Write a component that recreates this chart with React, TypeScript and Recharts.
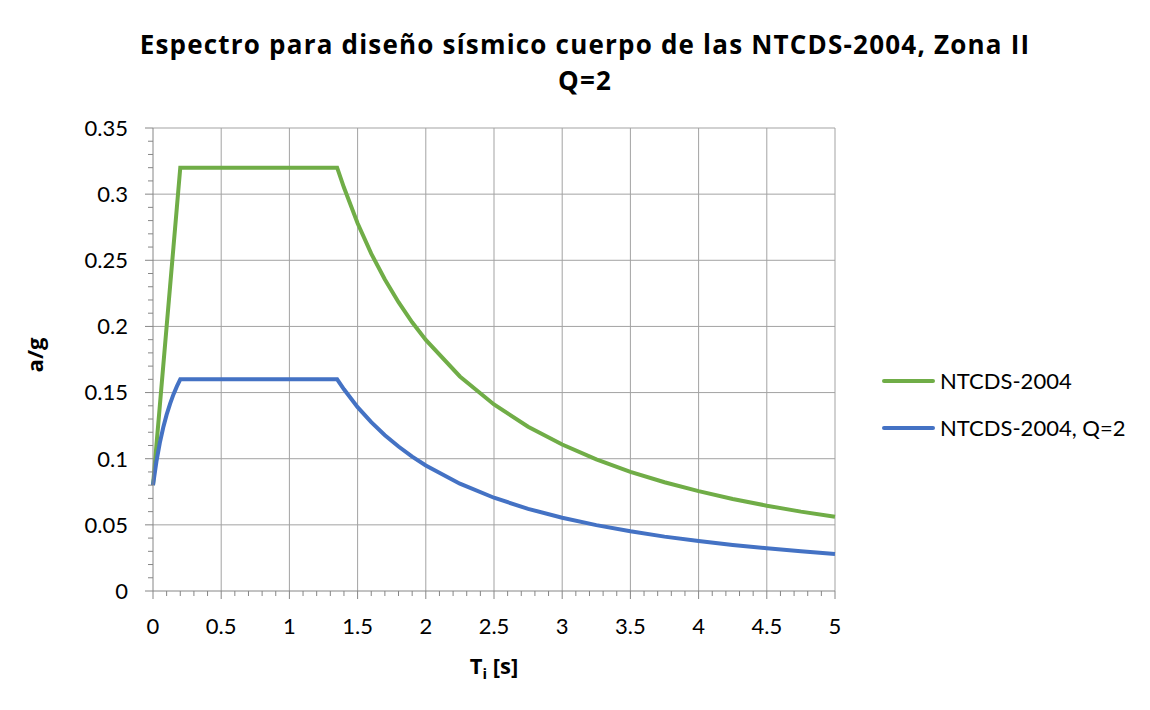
import { LineChart, Line, XAxis, YAxis, ReferenceLine } from 'recharts';

// periodo T [s]
const periods = [
  0, 0.025, 0.05, 0.075, 0.1, 0.125, 0.15, 0.175, 0.2, 0.5, 1.0, 1.35, 1.4, 1.5, 1.6, 1.7, 1.8, 1.9, 2.0,
  2.25, 2.5, 2.75, 3.0, 3.25, 3.5, 3.75, 4.0, 4.25, 4.5, 4.75, 5.0,
];
// a/g, espectro elastico
const ntcds = [
  0.08, 0.11, 0.14, 0.17, 0.2, 0.23, 0.26, 0.29, 0.32, 0.32, 0.32, 0.32, 0.305, 0.278, 0.255, 0.2355, 0.2183, 0.2031, 0.1898,
  0.1622, 0.141, 0.1242, 0.1107, 0.0995, 0.0901, 0.0822, 0.0755, 0.0696, 0.0645, 0.06, 0.0561,
];
// a/g, reducido con Q=2
const ntcdsQ2 = [
  0.08, 0.0978, 0.112, 0.1236, 0.1333, 0.1415, 0.1486, 0.1547, 0.16, 0.16, 0.16, 0.16, 0.1525, 0.139, 0.1277, 0.1178, 0.1092, 0.1016, 0.0949,
  0.0811, 0.0705, 0.0621, 0.0554, 0.0498, 0.0451, 0.0411, 0.0378, 0.0348, 0.0323, 0.03, 0.028,
];

const xMajor = [0, 0.5, 1, 1.5, 2, 2.5, 3, 3.5, 4, 4.5, 5];
const yMajor = [0, 0.05, 0.1, 0.15, 0.2, 0.25, 0.3, 0.35];
const xTicks = Array.from({ length: 51 }, (_, i) => Math.round(i * 10) / 100);
const yTicks = Array.from({ length: 36 }, (_, i) => i / 100);

const series = [
  { key: 'ntcds', name: 'NTCDS-2004', color: '#70AD47' },
  { key: 'ntcdsQ2', name: 'NTCDS-2004, Q=2', color: '#4472C4' },
];

const data = periods.map((t, i) => ({ t, ntcds: ntcds[i], ntcdsQ2: ntcdsQ2[i] }));

const FONT = 'Lato, "DejaVu Sans", sans-serif';
const TITLE_FONT = '"Open Sans", Lato, sans-serif';
const AXIS = '#868686';
const GRID = '#a3a3a3';

const isMajor = (v: number, step: number) => Math.abs(v / step - Math.round(v / step)) < 1e-6;

const YTick = (props: any) => {
  const { x, y, payload } = props;
  const v = payload.value;
  const major = isMajor(v, 0.05);
  return (
    <g>
      <line x1={x - (major ? 8 : 5)} x2={x} y1={y} y2={y} stroke={AXIS} strokeWidth={1} />
      {major && (
        <text x={x - 25} y={y} dy="0.36em" textAnchor="end" fontFamily={FONT} fontSize={22} fill="#000">
          {String(Math.round(v * 100) / 100)}
        </text>
      )}
    </g>
  );
};

const XTick = (props: any) => {
  const { x, y, payload } = props;
  const v = payload.value;
  const major = isMajor(v, 0.5);
  return (
    <g>
      <line x1={x} x2={x} y1={y} y2={y + (major ? 8 : 5)} stroke={AXIS} strokeWidth={1} />
      {major && (
        <text x={x} y={y + 43} textAnchor="middle" fontFamily={FONT} fontSize={22} fill="#000">
          {String(Math.round(v * 10) / 10)}
        </text>
      )}
    </g>
  );
};

export default function App() {
  return (
    <div
      style={{
        position: 'relative',
        margin: '-3px 0 0 -1px',
        width: 1170,
        height: 730,
        border: '1px solid #bcbcbc',
        fontFamily: FONT,
      }}
    >
      <div
        style={{
          position: 'absolute',
          left: 0,
          top: 20,
          width: 1154,
          textAlign: 'center',
          fontFamily: TITLE_FONT,
          fontWeight: 700,
          fontSize: 26,
          letterSpacing: 1.2,
          lineHeight: '36px',
          color: '#000',
        }}
      >
        <div>Espectro para diseño sísmico cuerpo de las NTCDS-2004, Zona II</div>
        <div>Q=2</div>
      </div>
      <div
        style={{
          position: 'absolute',
          left: 26 - 40,
          top: 349 - 14,
          width: 80,
          textAlign: 'center',
          transform: 'rotate(-90deg)',
          fontFamily: TITLE_FONT,
          fontWeight: 700,
          fontSize: 22,
          lineHeight: '28px',
        }}
      >
        a/g
      </div>
      <div
        style={{
          position: 'absolute',
          left: 486 - 60,
          top: 645,
          width: 120,
          textAlign: 'center',
          fontFamily: TITLE_FONT,
          fontWeight: 700,
          fontSize: 22,
          lineHeight: '28px',
        }}
      >
        T<sub style={{ fontSize: 15, verticalAlign: -5 }}>i</sub> [s]
      </div>
      <div style={{ position: 'absolute', left: 874, top: 351, fontFamily: FONT, fontSize: 22 }}>
        {series.map((s) => (
          <div key={s.key} style={{ display: 'flex', alignItems: 'center', height: 47 }}>
            <div style={{ width: 53, height: 4, background: s.color, borderRadius: 2, marginRight: 5 }} />
            <span>{s.name}</span>
          </div>
        ))}
      </div>
      <LineChart
        width={1142}
        height={704}
        data={data}
        margin={{ top: 122, right: 315, bottom: 79, left: 65 }}
        style={{ position: 'absolute', left: 0, top: 0 }}
      >
        {xMajor.slice(1).map((v) => (
          <ReferenceLine key={'gx' + v} x={v} stroke={GRID} strokeWidth={1} ifOverflow="visible" />
        ))}
        {yMajor.slice(1).map((v) => (
          <ReferenceLine key={'gy' + v} y={v} stroke={GRID} strokeWidth={1} ifOverflow="visible" />
        ))}
        <XAxis
          dataKey="t"
          type="number"
          domain={[0, 5]}
          ticks={xTicks}
          interval={0}
          tick={<XTick />}
          tickSize={0}
          tickMargin={0}
          tickLine={false}
          axisLine={{ stroke: AXIS }}
          height={40}
        />
        <YAxis
          type="number"
          domain={[0, 0.35]}
          ticks={yTicks}
          interval={0}
          tick={<YTick />}
          tickSize={0}
          tickMargin={0}
          tickLine={false}
          axisLine={{ stroke: AXIS }}
          width={80}
        />
        {series.map((s) => (
          <Line
            key={s.key}
            dataKey={s.key}
            name={s.name}
            type="linear"
            stroke={s.color}
            strokeWidth={4}
            dot={false}
            activeDot={false}
            isAnimationActive={false}
          />
        ))}
      </LineChart>
    </div>
  );
}
